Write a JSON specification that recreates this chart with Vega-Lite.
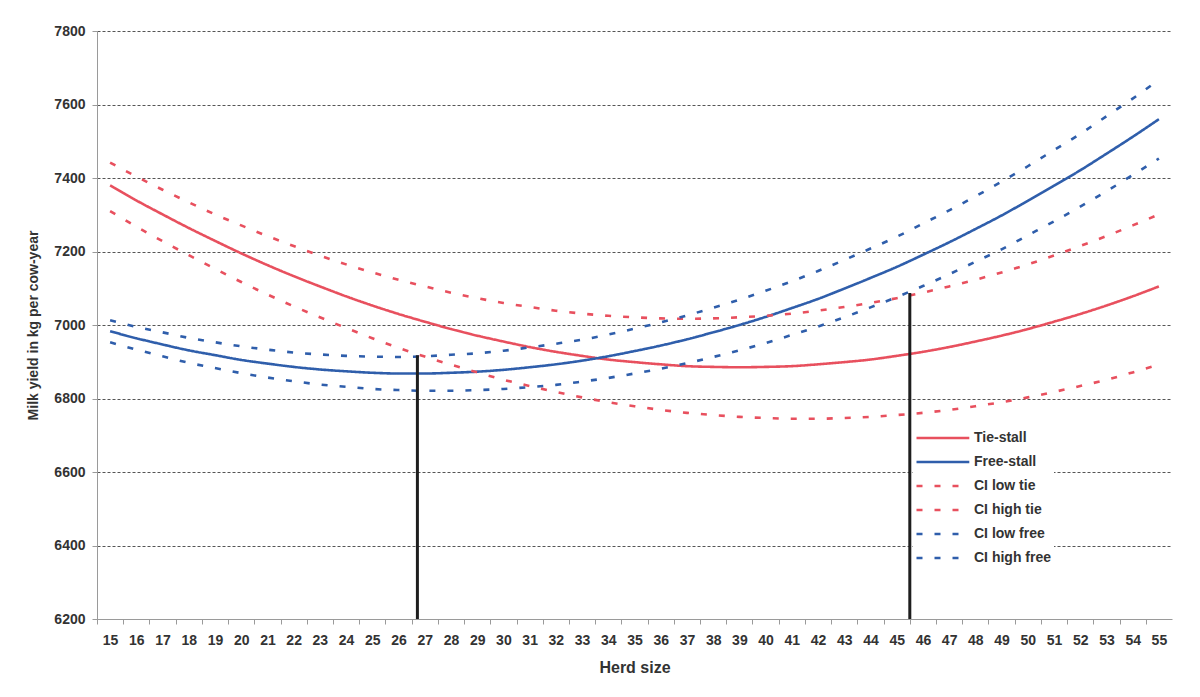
{
  "$schema": "https://vega.github.io/schema/vega-lite/v6.json",
  "autosize": "none",
  "width": 1075,
  "height": 588,
  "padding": {"left": 97, "top": 31, "right": 28, "bottom": 78},
  "background": "#ffffff",
  "config": {"font": "Liberation Sans", "view": {"stroke": null}},
  "datasets": {
    "curves": [
      {"herd": 15, "Tie-stall": 7380, "Free-stall": 6983, "CI low tie": 7310, "CI high tie": 7442, "CI low free": 6953, "CI high free": 7013},
      {"herd": 16, "Tie-stall": 7339, "Free-stall": 6964, "CI low tie": 7268, "CI high tie": 7404, "CI low free": 6933, "CI high free": 6995},
      {"herd": 17, "Tie-stall": 7301, "Free-stall": 6947, "CI low tie": 7228, "CI high tie": 7368, "CI low free": 6915, "CI high free": 6980},
      {"herd": 18, "Tie-stall": 7264, "Free-stall": 6931, "CI low tie": 7190, "CI high tie": 7334, "CI low free": 6897, "CI high free": 6965},
      {"herd": 19, "Tie-stall": 7229, "Free-stall": 6918, "CI low tie": 7153, "CI high tie": 7301, "CI low free": 6883, "CI high free": 6953},
      {"herd": 20, "Tie-stall": 7195, "Free-stall": 6905, "CI low tie": 7117, "CI high tie": 7271, "CI low free": 6869, "CI high free": 6942},
      {"herd": 21, "Tie-stall": 7163, "Free-stall": 6895, "CI low tie": 7083, "CI high tie": 7242, "CI low free": 6857, "CI high free": 6933},
      {"herd": 22, "Tie-stall": 7133, "Free-stall": 6886, "CI low tie": 7051, "CI high tie": 7215, "CI low free": 6847, "CI high free": 6925},
      {"herd": 23, "Tie-stall": 7105, "Free-stall": 6879, "CI low tie": 7021, "CI high tie": 7189, "CI low free": 6838, "CI high free": 6920},
      {"herd": 24, "Tie-stall": 7078, "Free-stall": 6874, "CI low tie": 6992, "CI high tie": 7165, "CI low free": 6832, "CI high free": 6916},
      {"herd": 25, "Tie-stall": 7053, "Free-stall": 6870, "CI low tie": 6964, "CI high tie": 7143, "CI low free": 6826, "CI high free": 6914},
      {"herd": 26, "Tie-stall": 7030, "Free-stall": 6868, "CI low tie": 6938, "CI high tie": 7123, "CI low free": 6823, "CI high free": 6913},
      {"herd": 27, "Tie-stall": 7009, "Free-stall": 6868, "CI low tie": 6914, "CI high tie": 7105, "CI low free": 6821, "CI high free": 6915},
      {"herd": 28, "Tie-stall": 6989, "Free-stall": 6870, "CI low tie": 6892, "CI high tie": 7088, "CI low free": 6821, "CI high free": 6919},
      {"herd": 29, "Tie-stall": 6971, "Free-stall": 6873, "CI low tie": 6871, "CI high tie": 7073, "CI low free": 6823, "CI high free": 6923},
      {"herd": 30, "Tie-stall": 6955, "Free-stall": 6878, "CI low tie": 6851, "CI high tie": 7060, "CI low free": 6826, "CI high free": 6930},
      {"herd": 31, "Tie-stall": 6940, "Free-stall": 6885, "CI low tie": 6834, "CI high tie": 7049, "CI low free": 6831, "CI high free": 6939},
      {"herd": 32, "Tie-stall": 6927, "Free-stall": 6893, "CI low tie": 6818, "CI high tie": 7039, "CI low free": 6837, "CI high free": 6949},
      {"herd": 33, "Tie-stall": 6916, "Free-stall": 6903, "CI low tie": 6803, "CI high tie": 7031, "CI low free": 6846, "CI high free": 6960},
      {"herd": 34, "Tie-stall": 6906, "Free-stall": 6915, "CI low tie": 6790, "CI high tie": 7025, "CI low free": 6856, "CI high free": 6974},
      {"herd": 35, "Tie-stall": 6899, "Free-stall": 6929, "CI low tie": 6779, "CI high tie": 7021, "CI low free": 6868, "CI high free": 6990},
      {"herd": 36, "Tie-stall": 6893, "Free-stall": 6944, "CI low tie": 6769, "CI high tie": 7018, "CI low free": 6881, "CI high free": 7007},
      {"herd": 37, "Tie-stall": 6888, "Free-stall": 6961, "CI low tie": 6761, "CI high tie": 7017, "CI low free": 6896, "CI high free": 7026},
      {"herd": 38, "Tie-stall": 6886, "Free-stall": 6980, "CI low tie": 6755, "CI high tie": 7018, "CI low free": 6913, "CI high free": 7047},
      {"herd": 39, "Tie-stall": 6885, "Free-stall": 7000, "CI low tie": 6750, "CI high tie": 7021, "CI low free": 6931, "CI high free": 7069},
      {"herd": 40, "Tie-stall": 6886, "Free-stall": 7022, "CI low tie": 6747, "CI high tie": 7025, "CI low free": 6951, "CI high free": 7093},
      {"herd": 41, "Tie-stall": 6888, "Free-stall": 7046, "CI low tie": 6745, "CI high tie": 7031, "CI low free": 6973, "CI high free": 7119},
      {"herd": 42, "Tie-stall": 6893, "Free-stall": 7071, "CI low tie": 6745, "CI high tie": 7039, "CI low free": 6996, "CI high free": 7147},
      {"herd": 43, "Tie-stall": 6899, "Free-stall": 7099, "CI low tie": 6747, "CI high tie": 7049, "CI low free": 7021, "CI high free": 7177},
      {"herd": 44, "Tie-stall": 6906, "Free-stall": 7128, "CI low tie": 6750, "CI high tie": 7060, "CI low free": 7048, "CI high free": 7208},
      {"herd": 45, "Tie-stall": 6916, "Free-stall": 7158, "CI low tie": 6755, "CI high tie": 7073, "CI low free": 7076, "CI high free": 7240},
      {"herd": 46, "Tie-stall": 6927, "Free-stall": 7191, "CI low tie": 6761, "CI high tie": 7088, "CI low free": 7106, "CI high free": 7276},
      {"herd": 47, "Tie-stall": 6940, "Free-stall": 7225, "CI low tie": 6769, "CI high tie": 7105, "CI low free": 7138, "CI high free": 7312},
      {"herd": 48, "Tie-stall": 6955, "Free-stall": 7261, "CI low tie": 6779, "CI high tie": 7123, "CI low free": 7172, "CI high free": 7350},
      {"herd": 49, "Tie-stall": 6971, "Free-stall": 7298, "CI low tie": 6790, "CI high tie": 7143, "CI low free": 7206, "CI high free": 7390},
      {"herd": 50, "Tie-stall": 6989, "Free-stall": 7338, "CI low tie": 6803, "CI high tie": 7165, "CI low free": 7244, "CI high free": 7432},
      {"herd": 51, "Tie-stall": 7009, "Free-stall": 7379, "CI low tie": 6818, "CI high tie": 7189, "CI low free": 7282, "CI high free": 7476},
      {"herd": 52, "Tie-stall": 7030, "Free-stall": 7421, "CI low tie": 6834, "CI high tie": 7215, "CI low free": 7322, "CI high free": 7520},
      {"herd": 53, "Tie-stall": 7053, "Free-stall": 7466, "CI low tie": 6851, "CI high tie": 7242, "CI low free": 7364, "CI high free": 7568},
      {"herd": 54, "Tie-stall": 7078, "Free-stall": 7512, "CI low tie": 6871, "CI high tie": 7271, "CI low free": 7408, "CI high free": 7616},
      {"herd": 55, "Tie-stall": 7105, "Free-stall": 7560, "CI low tie": 6892, "CI high tie": 7301, "CI low free": 7453, "CI high free": 7667}
    ],
    "markers": [
      {"herd": 26.72, "yield": 6200, "yield2": 6918},
      {"herd": 45.5, "yield": 6200, "yield2": 7087}
    ]
  },
  "encoding": {
    "x": {
      "field": "herd", "type": "quantitative",
      "scale": {"domain": [14.5, 55.5], "nice": false, "zero": false},
      "axis": {
        "title": "Herd size", "titleFontSize": 16, "titleFontWeight": "bold", "titleColor": "#333333", "titlePadding": 12,
        "values": [15,16,17,18,19,20,21,22,23,24,25,26,27,28,29,30,31,32,33,34,35,36,37,38,39,40,41,42,43,44,45,46,47,48,49,50,51,52,53,54,55,56],
        "labelExpr": "datum.value > 55 ? '' : datum.label",
        "tickOffset": -13.1, "labelOffset": 13.1,
        "tickSize": 5, "tickColor": "#9a9a9a", "domainColor": "#9a9a9a",
        "labelFontSize": 14, "labelFontWeight": "bold", "labelColor": "#333333", "labelPadding": 9,
        "labelFlush": false, "labelOverlap": false, "labelBound": false, "grid": false
      }
    },
    "y": {
      "field": "yield", "type": "quantitative",
      "scale": {"domain": [6200, 7800], "nice": false, "zero": false},
      "axis": {
        "title": "Milk yield in kg per cow-year", "titleFontSize": 14, "titleFontWeight": "bold", "titleColor": "#333333", "titlePadding": 13,
        "values": [6200, 6400, 6600, 6800, 7000, 7200, 7400, 7600, 7800], "format": "d",
        "labelFontSize": 14, "labelFontWeight": "bold", "labelColor": "#333333", "labelPadding": 7,
        "tickSize": 5, "tickColor": "#9a9a9a", "domainColor": "#9a9a9a",
        "grid": true, "gridDash": [3, 2], "gridColor": "#555555", "gridWidth": 1
      }
    }
  },
  "layer": [
    {
      "data": {"name": "curves"},
      "transform": [
        {"fold": ["Tie-stall", "Free-stall", "CI low tie", "CI high tie", "CI low free", "CI high free"], "as": ["series", "yield"]}
      ],
      "mark": {"type": "line", "strokeWidth": 2.6, "interpolate": "monotone"},
      "encoding": {
        "color": {
          "field": "series", "type": "nominal",
          "scale": {"domain": ["Tie-stall", "Free-stall", "CI low tie", "CI high tie", "CI low free", "CI high free"],
                    "range": ["#e8505e", "#2f5eab", "#e8505e", "#e8505e", "#2f5eab", "#2f5eab"]},
          "legend": {"title": null, "orient": "none", "legendX": 816, "legendY": 398, "padding": 2, "fillColor": "#ffffff", "symbolType": "M-1,0H8.6", "symbolSize": 121, "symbolStrokeWidth": 2.6, "labelFontSize": 14, "labelFontWeight": "bold", "labelColor": "#333333", "rowPadding": 10, "labelOffset": 45}
        },
        "strokeDash": {
          "field": "series", "type": "nominal",
          "scale": {"domain": ["Tie-stall", "Free-stall", "CI low tie", "CI high tie", "CI low free", "CI high free"],
                    "range": [[1, 0], [1, 0], [6, 12], [6, 12], [6, 12], [6, 12]]},
          "legend": {"title": null, "orient": "none", "legendX": 816, "legendY": 398, "padding": 2, "fillColor": "#ffffff", "symbolType": "M-1,0H8.6", "symbolSize": 121, "symbolStrokeWidth": 2.6, "labelFontSize": 14, "labelFontWeight": "bold", "labelColor": "#333333", "rowPadding": 10, "labelOffset": 45}
        }
      }
    },
    {
      "data": {"name": "markers"},
      "mark": {"type": "rule", "color": "#1e1e1e", "strokeWidth": 3},
      "encoding": {
        "y2": {"field": "yield2"}
      }
    }
  ]
}
